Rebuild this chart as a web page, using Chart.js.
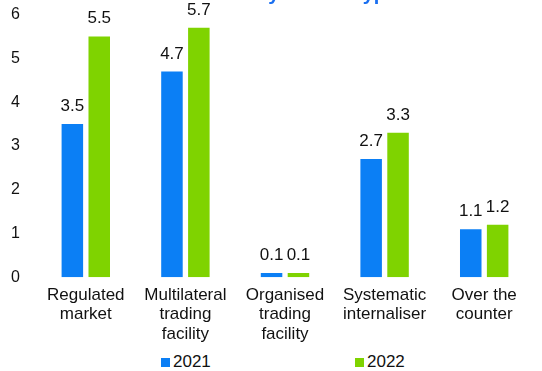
<!DOCTYPE html>
<html>
<head>
<meta charset="utf-8">
<script src="https://cdn.jsdelivr.net/npm/chart.js@4/dist/chart.umd.min.js"></script>
<style>
  html, body { margin: 0; padding: 0; background: #fff; }
  #wrap { position: relative; width: 542px; height: 371px; overflow: hidden; }
  #graph1 { position: absolute; left: 0; top: -11px; }
  #legend { position: absolute; top: 352px; left: 0; width: 542px; font: 17px "Liberation Sans", Arial, sans-serif; color: #111; }
  .item { position: absolute; top: 0; }
  .sw { display: inline-block; width: 9px; height: 9px; margin-right: 3px; }
</style>
</head>
<body>
<div id="wrap">
  <canvas id="graph1" width="542" height="363"></canvas>
  <div id="legend">
    <span class="item" style="left:161px"><span class="sw" style="background:#0b7ff5"></span>2021</span>
    <span class="item" style="left:355px"><span class="sw" style="background:#7fd300"></span>2022</span>
  </div>
</div>
<script>
// données
const categories = [
  ["Regulated", "market"],
  ["Multilateral", "trading", "facility"],
  ["Organised", "trading", "facility"],
  ["Systematic", "internaliser"],
  ["Over the", "counter"]
];
const valeurs2021 = [3.5, 4.7, 0.1, 2.7, 1.1];
const valeurs2022 = [5.5, 5.7, 0.1, 3.3, 1.2];
const titre = "Number of transactions by market type";

const police = "'Liberation Sans', Arial, sans-serif";

// étiquettes au-dessus des barres
const etiquettes = {
  id: "etiquettes",
  afterDatasetsDraw(chart) {
    const ctx = chart.ctx;
    ctx.save();
    ctx.font = "17px " + police;
    ctx.fillStyle = "#111";
    ctx.textAlign = "center";
    ctx.textBaseline = "alphabetic";
    chart.data.datasets.forEach((ds, i) => {
      chart.getDatasetMeta(i).data.forEach((bar, j) => {
        ctx.fillText(ds.data[j].toFixed(1), bar.x, bar.y - 13);
      });
    });
    ctx.restore();
  }
};

// titre coupé en haut
const titreCoupe = {
  id: "titreCoupe",
  afterDraw(chart) {
    const ctx = chart.ctx;
    ctx.save();
    ctx.font = "bold 20px " + police;
    ctx.fillStyle = "#1a6ff0";
    ctx.textAlign = "left";
    ctx.textBaseline = "alphabetic";
    ctx.fillText(titre, 26, 10.5);
    ctx.restore();
  }
};

new Chart(document.getElementById("graph1"), {
  type: "bar",
  data: {
    labels: categories,
    datasets: [
      { label: "2021", data: valeurs2021, backgroundColor: "#0b7ff5",
        categoryPercentage: 0.54, barPercentage: 0.8 },
      { label: "2022", data: valeurs2022, backgroundColor: "#7fd300",
        categoryPercentage: 0.54, barPercentage: 0.8 }
    ]
  },
  options: {
    responsive: false,
    animation: false,
    layout: { padding: { top: 0, right: 8, left: 0, bottom: 0 } },
    plugins: { legend: { display: false }, tooltip: { enabled: false } },
    scales: {
      x: {
        grid: { display: false, drawTicks: false },
        border: { display: false },
        ticks: { color: "#111", font: { size: 17, family: police, lineHeight: 1.15 }, padding: 8, maxRotation: 0, autoSkip: false }
      },
      y: {
        min: 0, max: 6,
        grid: { display: false, drawTicks: false },
        border: { display: false },
        afterFit(axis) { axis.width = 36; },
        ticks: { stepSize: 1, color: "#111", font: { size: 16, family: police }, padding: 16 }
      }
    }
  },
  plugins: [etiquettes, titreCoupe]
});
</script>
</body>
</html>
